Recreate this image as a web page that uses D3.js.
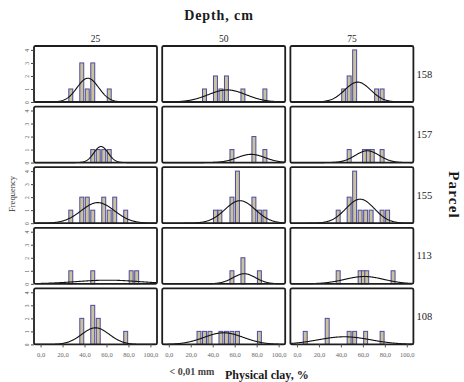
<!DOCTYPE html>
<html>
<head>
<meta charset="utf-8">
<script src="https://cdn.jsdelivr.net/npm/d3@7"></script>
<style>
  html, body { margin: 0; padding: 0; background: #fff; }
  svg { display: block; font-family: "Liberation Serif", "Times New Roman", serif; }
</style>
</head>
<body>
<svg id="chart" width="464" height="382"></svg>
<script>
// ── data: [bin centre %, count] per parcel x depth ──
const depths  = ["25", "50", "75"];
const parcels = ["158", "157", "155", "113", "108"];
const xTicks  = [0, 20, 40, 60, 80, 100];
const yTicks  = [0, 1, 2, 3, 4];
const binWidth = 5;

const p158 = [
  [[27.5, 1], [37.5, 3], [42.5, 1], [47.5, 3], [62.5, 1]],
  [[32.5, 1], [42.5, 2], [47.5, 1], [52.5, 2], [67.5, 1], [87.5, 1]],
  [[42.5, 1], [47.5, 2], [52.5, 4], [72.5, 1], [77.5, 1]]
];
const p157 = [
  [[47.5, 1], [52.5, 1], [57.5, 1], [62.5, 1]],
  [[57.5, 1], [77.5, 2], [87.5, 1]],
  [[47.5, 1], [61.5, 1], [65, 1], [68.5, 1], [77.5, 1]]
];
const p155 = [
  [[27.5, 1], [37.5, 2], [42.5, 2], [47.5, 1], [57.5, 2], [62.5, 1], [67.5, 2], [77.5, 1]],
  [[42.5, 1], [46.5, 1], [57.5, 2], [62.5, 4], [77.5, 2], [82.5, 1], [87.5, 1]],
  [[37.5, 1], [47.5, 2], [52.5, 4], [57.5, 1], [62.5, 1], [67.5, 1], [77.5, 1], [82.5, 1]]
];
const p113 = [
  [[27.5, 1], [47.5, 1], [82.5, 1], [87.5, 1]],
  [[57.5, 1], [67.5, 2], [82.5, 1]],
  [[37.5, 1], [57.5, 1], [60.5, 1], [63.5, 1], [87.5, 1]]
];
const p108 = [
  [[37.5, 2], [47.5, 3], [52.5, 2], [77.5, 1]],
  [[27.5, 1], [32.5, 1], [37.5, 1], [47.5, 1], [52.5, 1], [57.5, 1], [62.5, 1], [82.5, 1]],
  [[7.5, 1], [27.5, 2], [47.5, 1], [52.5, 1], [62.5, 1], [77.5, 1]]
];
const panelRows = [p158, p157, p155, p113, p108];

// ── layout ──
const svg = d3.select("#chart");
const padLeft = 34, padTop = 46;
const pw = 123, ph = 56;
const gapX = 5.2, gapY = 4.6;

const x = d3.scaleLinear().domain([-6, 106]).range([0, pw]);
const y = d3.scaleLinear().domain([0, 4.3]).range([ph, 0]);
const fmt = (v) => d3.format(".1f")(v).replace(".", ",");

const barFill = "#cbc29b", barStroke = "#4b4ba2";

panelRows.forEach((row, ri) => {
  row.forEach((bins, ci) => {
    const g = svg.append("g")
      .attr("transform", `translate(${padLeft + ci * (pw + gapX)},${padTop + ri * (ph + gapY)})`);

    g.append("rect")
      .attr("width", pw).attr("height", ph)
      .attr("fill", "#fff");

    // bars
    g.selectAll("rect.bar")
      .data(bins)
      .join("rect")
      .attr("class", "bar")
      .attr("x", (d) => x(d[0] - 1.8))
      .attr("width", x(3.6) - x(0))
      .attr("y", (d) => y(d[1]))
      .attr("height", (d) => y(0) - y(d[1]))
      .attr("fill", barFill)
      .attr("stroke", barStroke)
      .attr("stroke-width", 1);

    // normal curve fitted to the data
    const vals = bins.flatMap(([v, n]) => d3.range(n).map(() => v));
    const mu = d3.mean(vals), sd = d3.deviation(vals);
    const k = vals.length * binWidth / (sd * Math.sqrt(2 * Math.PI));
    const pts = d3.range(-6, 106.5, 0.5).map((v) => [v, k * Math.exp(-0.5 * ((v - mu) / sd) ** 2)]);
    g.append("path")
      .attr("d", d3.line().x((d) => x(d[0])).y((d) => y(d[1]))(pts))
      .attr("fill", "none")
      .attr("stroke", "#111")
      .attr("stroke-width", 1.1);

    // frame
    g.append("rect")
      .attr("width", pw).attr("height", ph)
      .attr("rx", 1.5)
      .attr("fill", "none")
      .attr("stroke", "#1e1e1e")
      .attr("stroke-width", 1.8);

    // y axis on first column
    if (ci === 0) {
      const ya = g.append("g")
        .call(d3.axisLeft(y).tickValues(yTicks).tickSize(3).tickFormat(d3.format("d")));
      ya.select(".domain").remove();
      ya.selectAll("line").attr("stroke", "#444");
      ya.selectAll("text")
        .attr("font-family", "Liberation Serif")
        .attr("font-size", 5.5)
        .attr("fill", "#555")
        .attr("text-anchor", "middle")
        .attr("transform", "rotate(-90)")
        .attr("x", 0)
        .attr("y", -5)
        .attr("dy", 0);
    }

    // x axis on bottom row
    if (ri === panelRows.length - 1) {
      const xa = g.append("g")
        .attr("transform", `translate(0,${ph})`)
        .call(d3.axisBottom(x).tickValues(xTicks).tickSize(3).tickFormat(fmt));
      xa.select(".domain").remove();
      xa.selectAll("line").attr("stroke", "#555");
      xa.selectAll("text")
        .attr("font-family", "Liberation Serif")
        .attr("font-size", 6.5)
        .attr("fill", "#666")
        .attr("y", 8);
    }

    // column header
    if (ri === 0) {
      g.append("text")
        .attr("x", pw / 2).attr("y", -4)
        .attr("text-anchor", "middle")
        .attr("font-size", 9.5)
        .attr("fill", "#222")
        .text(depths[ci]);
    }
  });

  // row label
  svg.append("text")
    .attr("x", padLeft + 3 * pw + 2 * gapX + 3)
    .attr("y", padTop + ri * (ph + gapY) + ph / 2 + 3.5)
    .attr("font-size", 10.5)
    .attr("fill", "#222")
    .text(parcels[ri]);
});

// titles
svg.append("text")
  .attr("x", 219).attr("y", 20)
  .attr("text-anchor", "middle")
  .attr("font-size", 14).attr("font-weight", "bold")
  .attr("letter-spacing", 0.9)
  .attr("fill", "#1a1a1a")
  .text("Depth, cm");

svg.append("text")
  .attr("transform", "translate(449,195) rotate(90)")
  .attr("text-anchor", "middle")
  .attr("font-size", 15).attr("font-weight", "bold")
  .attr("letter-spacing", 1.2)
  .attr("fill", "#1a1a1a")
  .text("Parcel");

svg.append("text")
  .attr("transform", "translate(15,194) rotate(-90)")
  .attr("text-anchor", "middle")
  .attr("font-size", 8.5)
  .attr("fill", "#333")
  .text("Frequency");

svg.append("text")
  .attr("x", 192).attr("y", 375)
  .attr("text-anchor", "middle")
  .attr("font-size", 10).attr("font-weight", "bold")
  .attr("fill", "#444")
  .text("< 0,01 mm");

svg.append("text")
  .attr("x", 225).attr("y", 379)
  .attr("font-size", 12).attr("font-weight", "bold")
  .attr("fill", "#1a1a1a")
  .text("Physical clay, %");
</script>
</body>
</html>
